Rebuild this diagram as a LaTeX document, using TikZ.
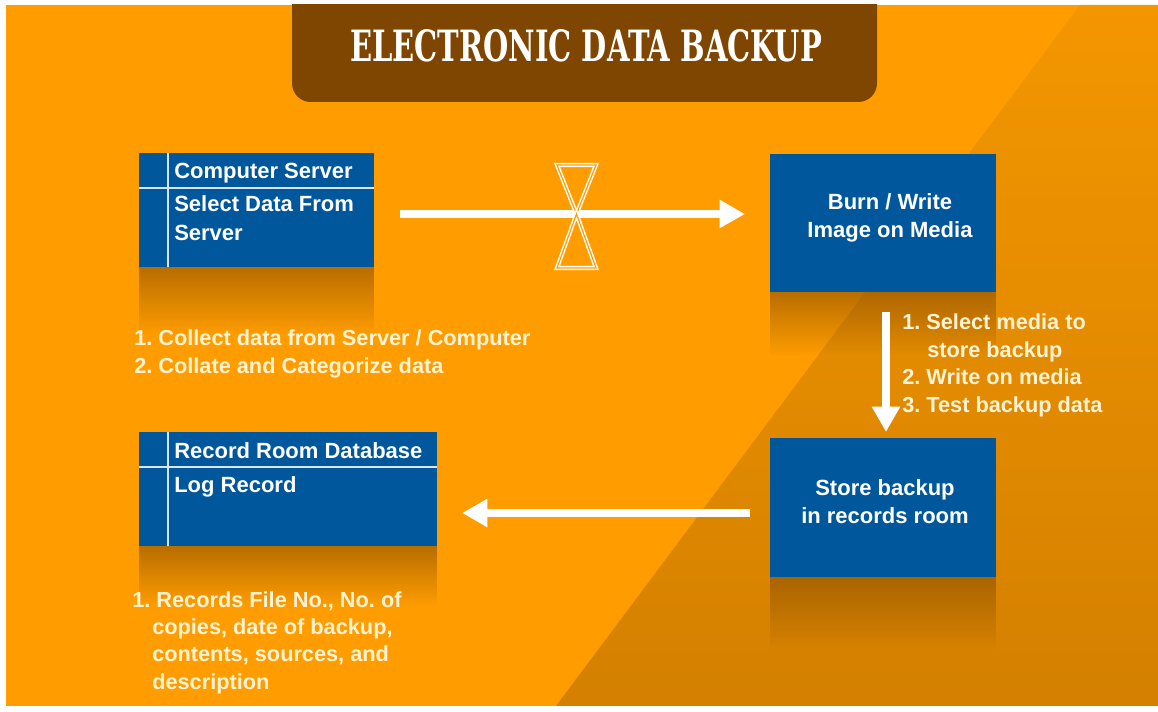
\documentclass[tikz,border=0pt]{standalone}
\usepackage{fontspec}
\setmainfont{Liberation Sans}
\newfontfamily\titlefont{DejaVu Serif}
\usetikzlibrary{arrows.meta,fadings}
\frenchspacing
\definecolor{bgor}{HTML}{FF9D00}
\definecolor{bgdarka}{HTML}{F39600}
\definecolor{bgdarkb}{HTML}{D48000}
\definecolor{banner}{HTML}{7E4600}
\definecolor{boxblue}{HTML}{00579B}
\definecolor{boxline}{HTML}{D6E6F4}
\definecolor{cream}{HTML}{FFF3D4}
\definecolor{shadowc}{HTML}{8A4E00}
\tikzfading[name=fadedown, top color=transparent!40, bottom color=transparent!100]
\tikzset{
  bluebox/.style={fill=boxblue, inner sep=0pt, outer sep=0pt, draw=none},
  boxln/.style={draw=boxline, line width=1.3pt},
  boxtxt/.style={text=white, font=\bfseries\fontsize{16.5}{20}\selectfont\frenchspacing, inner sep=0pt, anchor=base west},
  boxtxtc/.style={text=white, font=\bfseries\fontsize{16.5}{21}\selectfont\frenchspacing, inner sep=0pt, align=center},
  listtxt/.style={text=cream, font=\bfseries\fontsize{16.3}{20}\selectfont\frenchspacing, inner sep=0pt, anchor=base west},
  arr/.style={draw=white, line width=6pt, -{Triangle[length=19pt,width=20pt]}},
  hg/.style={draw=white, double=bgor, line width=1.1pt, double distance=0.9pt, line join=miter},
  shadowfill/.style={fill=shadowc, path fading=fadedown}
}
\begin{document}
\begin{tikzpicture}[x=0.75pt,y=-0.75pt]
\useasboundingbox (0,0) rectangle (1158,712);
\fill[white] (0,0) rectangle (1158,712);
\fill[bgor] (6,5) rectangle (1158,706);
\shade[top color=bgdarka, bottom color=bgdarkb] (1080,5) -- (1158,5) -- (1158,706) -- (556,706) -- cycle;

% banner
\begin{scope}
\clip (0,5) rectangle (1158,712);
\fill[banner, rounded corners=14pt] (292,-40) rectangle (877,102);
\end{scope}
\node[text=white, inner sep=0pt] (title) at (586,46) {\resizebox{354pt}{24pt}{\titlefont\bfseries ELECTRONIC DATA BACKUP}};

% boxes
\node[bluebox, minimum width=176.25pt, minimum height=85.5pt] (box1) at (256.5,210) {};
\node[bluebox, minimum width=169.5pt, minimum height=103.5pt] (box2) at (883,223) {};
\node[bluebox, minimum width=169.5pt, minimum height=104.25pt] (box3) at (883,507.5) {};
\node[bluebox, minimum width=223.5pt, minimum height=85.5pt] (box4) at (288,489) {};

% shadows
\fill[shadowfill] (box1.south west) rectangle ++(235,68);
\fill[shadowfill] (box2.south west) rectangle ++(226,64);
\fill[shadowfill] (box3.south west) rectangle ++(226,72);
\fill[shadowfill] (box4.south west) rectangle ++(298,60);

% box inner lines
\draw[boxln] (168,153) -- (168,267);
\draw[boxln] (139,188) -- (374,188);
\draw[boxln] (168,432) -- (168,546);
\draw[boxln] (139,467) -- (437,467);

% box texts
\node[boxtxt] (t1a) at (174,179) {Computer Server};
\node[boxtxt] (t1b) at (174,212) {Select Data From};
\node[boxtxt] (t1c) at (174,241) {Server};
\node[boxtxt] (t4a) at (174,459) {Record Room Database};
\node[boxtxt] (t4b) at (174,493) {Log Record};
\node[boxtxtc] (t2) at (890,218) {Burn / Write\\Image on Media};
\node[boxtxtc] (t3) at (885,502) {Store backup\\in records room};

% lists
\node[listtxt] (l1a) at (134,346) {1. Collect data from Server / Computer};
\node[listtxt] (l1b) at (134,374) {2. Collate and Categorize data};
\node[listtxt] (l2a) at (902,330) {1. Select media to};
\node[listtxt] (l2b) at (927,358) {store backup};
\node[listtxt] (l2c) at (902,385) {2. Write on media};
\node[listtxt] (l2d) at (902,413) {3. Test backup data};
\node[listtxt] (l4a) at (132,608) {1. Records File No., No. of};
\node[listtxt] (l4b) at (152,635) {copies, date of backup,};
\node[listtxt] (l4c) at (152,662) {contents, sources, and};
\node[listtxt] (l4d) at (152,690) {description};

% arrows
\draw[arr, shorten <=19.5pt, shorten >=18.75pt] (box1.east |- 0,214) -- (box2.west |- 0,214);
\draw[arr, shorten <=15pt, shorten >=4.5pt] (box2.south -| 886,0) -- (box3.north -| 886,0);
\draw[arr, shorten <=15pt, shorten >=18.75pt] (box3.west |- 0,513) -- (box4.east |- 0,513);

% hourglass
\draw[hg] (557,165) -- (596,165) -- (576.5,214) -- cycle;
\draw[hg] (576.5,214) -- (596,268) -- (557,268) -- cycle;
\end{tikzpicture}
\end{document}
